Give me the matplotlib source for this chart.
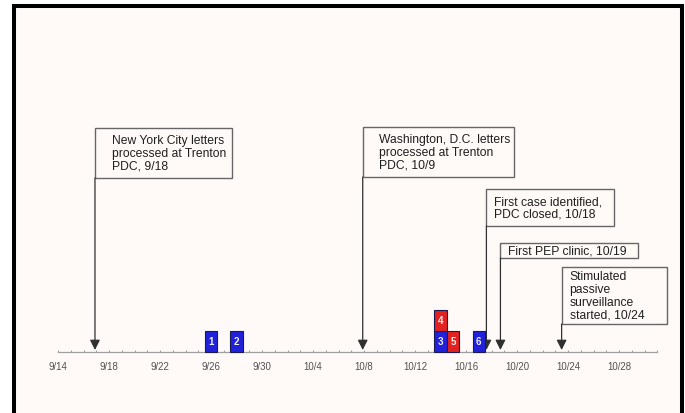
import matplotlib.pyplot as plt
from matplotlib.patches import Rectangle

plt.rcParams['font.family'] = ['Liberation Sans', 'DejaVu Sans']

# timeline: day 0 = 9/14
tick_days = list(range(0, 45, 4))
tick_labels = ['9/14', '9/18', '9/22', '9/26', '9/30', '10/4',
               '10/8', '10/12', '10/16', '10/20', '10/24', '10/28']
last_day = 47

# cases (day of onset, colour by type)
case_ids = [1, 2, 3, 4, 5, 6]
case_days = [12, 14, 30, 30, 31, 33]
case_colors = ['#2121dc', '#2121dc', '#2121dc', '#e42121', '#e42121', '#2121dc']

# events marked by arrows
event_labels = ['New York City letters\nprocessed at Trenton\nPDC, 9/18',
                'Washington, D.C. letters\nprocessed at Trenton\nPDC, 10/9',
                'First case identified,\nPDC closed, 10/18',
                'First PEP clinic, 10/19',
                'Stimulated\npassive\nsurveillance\nstarted, 10/24']
event_days = [2.9, 23.9, 33.6, 34.7, 39.5]

# layout (pixels, y measured from top)
W, H = 685, 414
X0_PX, PX_PER_DAY = 58, 12.75
AXIS_Y = 353
CASE_H = 21
box_top = [129, 128, 190, 244, 268]
box_bottom = [179, 178, 227, 259, 325]
box_width = [137, 151, 128, 138, 105]
text_pad = [17, 16, 8, 8, 8]

fig = plt.figure(figsize=(W / 100, H / 100), dpi=100)
fig.patch.set_facecolor('white')

# outer frame
frame = Rectangle((14 / W, -6 / H), (682 - 14) / W, (407 + 6) / H,
                  transform=fig.transFigure, facecolor='#fffaf7',
                  edgecolor='black', linewidth=2.9, zorder=-1)
fig.add_artist(frame)

ax = fig.add_axes([0, 0, 1, 1])
ax.set_xlim(-X0_PX / PX_PER_DAY, (W - X0_PX) / PX_PER_DAY)
ax.set_ylim(H, 0)
ax.set_axis_off()

# timeline axis
ax.plot([0, last_day], [AXIS_Y, AXIS_Y], color='#a0a0a0', lw=0.9, zorder=1)
ax.vlines(range(0, last_day + 1), AXIS_Y - 2.5, AXIS_Y, color='#a0a0a0', lw=0.8, zorder=1)
for d, lab in zip(tick_days, tick_labels):
    ax.text(d, 367, lab, ha='center', va='center', fontsize=6.9, color='#505050')

# stacked case boxes
levels = []
for i, d in enumerate(case_days):
    levels.append(case_days[:i].count(d))
bottoms = [AXIS_Y - lv * CASE_H for lv in levels]
ax.bar(case_days, -CASE_H, bottom=bottoms, width=0.98, color=case_colors,
       edgecolor='#1a1a50', linewidth=0.8, zorder=3)
for cid, d, b in zip(case_ids, case_days, bottoms):
    ax.text(d, b - CASE_H / 2, str(cid), ha='center', va='center',
            fontsize=7, fontweight='bold', color='#f0f0f0', zorder=4)

# event boxes with arrows
for lab, d, top, bot, wpx, pad in zip(event_labels, event_days, box_top,
                                      box_bottom, box_width, text_pad):
    wd = wpx / PX_PER_DAY
    ax.add_patch(Rectangle((d, top), wd, bot - top, facecolor='#fffaf7',
                           edgecolor='#666666', linewidth=1.0, zorder=2))
    ax.text(d + pad / PX_PER_DAY, (top + bot) / 2, lab, ha='left', va='center',
            fontsize=8.7, linespacing=1.1, color='#202020', zorder=2.5)
    ax.annotate('', xy=(d, AXIS_Y - 2), xytext=(d, bot),
                arrowprops=dict(arrowstyle='-|>,head_length=0.6,head_width=0.3',
                                color='#303030', lw=0.9, shrinkA=0, shrinkB=0),
                zorder=2)

fig.savefig('out.png', dpi=100)
